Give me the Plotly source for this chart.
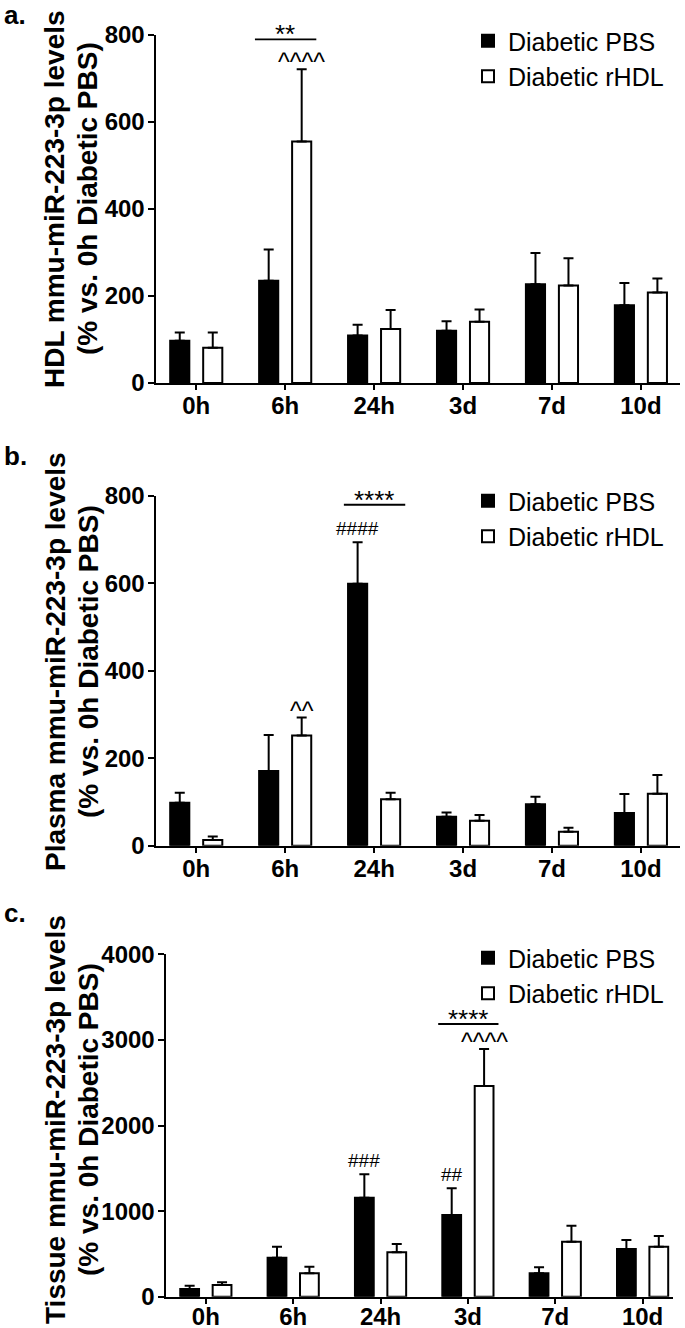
import plotly.graph_objects as go

W, H = 685, 1328

categories = ["0h", "6h", "24h", "3d", "7d", "10d"]
series_names = ["Diabetic PBS", "Diabetic rHDL"]

hdl_pbs = [97, 235, 109, 120, 227, 179]
hdl_pbs_sem = [19, 72, 25, 22, 72, 51]
hdl_rhdl = [81, 555, 124, 141, 224, 208]
hdl_rhdl_sem = [35, 166, 44, 28, 63, 32]

plasma_pbs = [98, 171, 599, 66, 95, 75]
plasma_pbs_sem = [23, 82, 95, 10, 17, 43]
plasma_rhdl = [13, 252, 106, 57, 32, 119]
plasma_rhdl_sem = [8, 41, 15, 13, 9, 43]

tissue_pbs = [90, 456, 1157, 954, 273, 557]
tissue_pbs_sem = [38, 128, 273, 312, 70, 105]
tissue_rhdl = [137, 273, 519, 2461, 643, 584]
tissue_rhdl_sem = [31, 77, 97, 433, 187, 125]

y_title_line1 = ["HDL mmu-miR-223-3p levels",
                 "Plasma mmu-miR-223-3p levels",
                 "Tissue mmu-miR-223-3p levels"]
y_title_line2 = "(% vs. 0h Diabetic PBS)"
panel_letters = ["a.", "b.", "c."]
y_max = [800, 800, 4000]
y_dtick = [200, 200, 1000]

# significance marks: (panel, category, series index, text)
marks = [
    (0, "6h", 1, "^^^^"),
    (1, "6h", 1, "^^"),
    (1, "24h", 0, "####"),
    (2, "24h", 0, "###"),
    (2, "3d", 0, "##"),
    (2, "3d", 1, "^^^^"),
]
# brackets between the two groups: (panel, category, level, text)
brackets = [
    (0, "6h", 790, "**"),
    (1, "24h", 780, "****"),
    (2, "3d", 3186, "****"),
]

panels = [
    (hdl_pbs, hdl_pbs_sem, hdl_rhdl, hdl_rhdl_sem),
    (plasma_pbs, plasma_pbs_sem, plasma_rhdl, plasma_rhdl_sem),
    (tissue_pbs, tissue_pbs_sem, tissue_rhdl, tissue_rhdl_sem),
]

# ---------------- layout geometry (pixels) ----------------
def px(x):
    return x / W

def py(y):
    return 1 - y / H

# x: (left px, right px, first tick px, tick spacing px)
xgeom = [(155.5, 680, 196.25, 88.93), (155.5, 680, 196.25, 88.93), (165.5, 673, 205.85, 87.35)]
# y: (zero px, top px)
ygeom = [(383, 35), (845.7, 496), (1296.7, 954.3)]
legend_top = [18, 478, 935]
title_center = [199, 662, 1120]
letter_center = [15, 456, 913]
xlabel_standoff = [-5, -5, -8]

FONT = "Liberation Sans, Arial, sans-serif"
BARGAP = 0.258
BARGROUPGAP = 0.42
OFFSET = (1 - BARGAP) / 4

fig = go.Figure()
layout = dict(
    width=W, height=H, autosize=False,
    margin=dict(l=0, r=0, t=0, b=0, autoexpand=False),
    paper_bgcolor="white", plot_bgcolor="white",
    barmode="group", bargap=BARGAP, bargroupgap=BARGROUPGAP,
    font=dict(family=FONT, color="black"),
)
annotations = []
shapes = []
fills = ["black", "white"]

for i, (pbs, pbs_e, rh, rh_e) in enumerate(panels):
    sfx = "" if i == 0 else str(i + 1)
    xa, ya = "x" + sfx, "y" + sfx
    leg = "legend" + sfx
    for j, (vals, errs) in enumerate([(pbs, pbs_e), (rh, rh_e)]):
        fig.add_trace(go.Bar(
            x=categories, y=vals, name=series_names[j],
            xaxis=xa, yaxis=ya, legend=leg,
            marker=dict(color=fills[j], line=dict(color="black", width=2)),
            error_y=dict(type="data", array=errs, arrayminus=[0] * len(errs),
                         symmetric=False, color="black", thickness=2, width=5),
        ))
    l, r, t0, sp = xgeom[i]
    z, top = ygeom[i]
    layout["xaxis" + sfx] = dict(
        domain=[px(l), px(r)], anchor=ya, automargin=False,
        range=[-(t0 - l) / sp, (r - t0) / sp],
        type="category", categoryorder="array", categoryarray=categories,
        showline=True, linecolor="black", linewidth=2,
        ticks="outside", ticklen=5, tickwidth=2, tickcolor="black",
        tickfont=dict(family=FONT, size=24, weight="bold", color="black"),
        ticklabelstandoff=xlabel_standoff[i],
        showgrid=False, zeroline=False, fixedrange=True,
    )
    layout["yaxis" + sfx] = dict(
        domain=[py(z), py(top)], anchor=xa, automargin=False,
        range=[0, y_max[i]], dtick=y_dtick[i], tick0=0,
        showline=True, linecolor="black", linewidth=2,
        ticks="outside", ticklen=6, tickwidth=2, tickcolor="black",
        tickfont=dict(family=FONT, size=24, weight="bold", color="black"),
        ticklabelstandoff=-2,
        showgrid=False, zeroline=False, fixedrange=True,
    )
    layout[leg] = dict(
        x=px(468), y=py(legend_top[i]), xanchor="left", yanchor="top",
        font=dict(family=FONT, size=25, color="black"),
        bgcolor="rgba(0,0,0,0)", tracegroupgap=0,
    )
    annotations.append(dict(
        text=y_title_line1[i], xref="paper", yref="paper",
        x=px(55), y=py(title_center[i]), xanchor="center", yanchor="middle",
        textangle=-90, showarrow=False,
        font=dict(family=FONT, size=28, weight="bold", color="black")))
    annotations.append(dict(
        text=y_title_line2, xref="paper", yref="paper",
        x=px(88), y=py(title_center[i]), xanchor="center", yanchor="middle",
        textangle=-90, showarrow=False,
        font=dict(family=FONT, size=28, weight="bold", color="black")))
    annotations.append(dict(
        text=panel_letters[i], xref="paper", yref="paper",
        x=px(2), y=py(letter_center[i]), xanchor="left", yanchor="middle",
        showarrow=False,
        font=dict(family=FONT, size=26, weight="bold", color="black")))

for (p, cat, s, txt) in marks:
    sfx = "" if p == 0 else str(p + 1)
    idx = categories.index(cat)
    vals = panels[p][2 * s]
    errs = panels[p][2 * s + 1]
    top = vals[idx] + errs[idx]
    is_hash = txt.startswith("#")
    annotations.append(dict(
        text=txt, xref="x" + sfx, yref="y" + sfx,
        x=idx + (OFFSET if s == 1 else -OFFSET), y=top,
        xanchor="center", yanchor="middle",
        yshift=14 if is_hash else 7, showarrow=False,
        font=dict(family=FONT, size=19 if is_hash else 25, color="black")))

for (p, cat, level, txt) in brackets:
    sfx = "" if p == 0 else str(p + 1)
    idx = categories.index(cat)
    shapes.append(dict(type="line", xref="x" + sfx, yref="y" + sfx,
                       x0=idx - 0.34, x1=idx + 0.35, y0=level, y1=level,
                       line=dict(color="black", width=1.8)))
    annotations.append(dict(
        text=txt, xref="x" + sfx, yref="y" + sfx, x=idx, y=level,
        xanchor="center", yanchor="middle", yshift=5, showarrow=False,
        font=dict(family=FONT, size=26, color="black")))

layout["annotations"] = annotations
layout["shapes"] = shapes
fig.update_layout(**layout)
fig.write_html(
    "out.html",
    config={"displayModeBar": False},
    post_script="document.body.style.margin='0';document.body.style.overflow='hidden';",
)
